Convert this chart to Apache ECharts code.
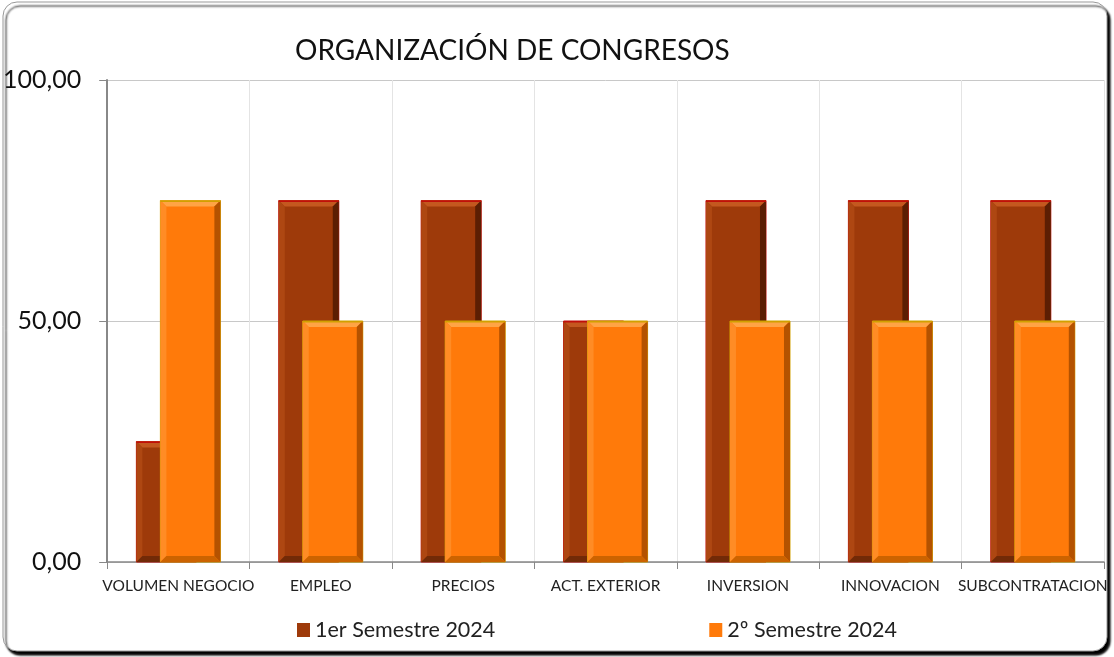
<!DOCTYPE html>
<html>
<head>
<meta charset="utf-8">
<script src="https://cdn.jsdelivr.net/npm/echarts@6/dist/echarts.min.js"></script>
<style>
  html,body{margin:0;padding:0;background:#fff;}
  #chart{width:1114px;height:657px;}
</style>
</head>
<body>
<div id="chart"></div>
<script>
// datos del gráfico
const categorias=['VOLUMEN NEGOCIO','EMPLEO','PRECIOS','ACT. EXTERIOR','INVERSION','INNOVACION','SUBCONTRATACION'];
const semestre1=[25,75,75,50,75,75,75];
const semestre2=[75,50,50,50,50,50,50];
const nombres=['1er Semestre 2024','2º Semestre 2024'];
const yTicks=[0,50,100];

const fuente='Lato';
// colores de cada barra con bisel
const estilos=[
  {main:'#9E3A0A',top:'#C4581F',left:'#AE4712',right:'#5C1E03',bottom:'#722A07',border:'#C0100A'},
  {main:'#FF7A0A',top:'#FFA445',left:'#FF8C25',right:'#B45200',bottom:'#CC6300',border:'#D2A000'}
];

function bisel(idx,offset){
  return function(params,api){
    const centro=api.coord([api.value(0),api.value(1)]);
    const base=api.coord([api.value(0),0]);
    const w=60,b=6;
    const x0=centro[0]+offset-w/2, x1=x0+w;
    const y0=centro[1], y1=base[1];
    const c=estilos[idx];
    return {
      type:'group',
      children:[
        {type:'rect',shape:{x:x0,y:y0,width:w,height:y1-y0},style:{fill:c.main,stroke:c.border,lineWidth:1}},
        {type:'polygon',shape:{points:[[x0,y0],[x1,y0],[x1-b,y0+b],[x0+b,y0+b]]},style:{fill:c.top}},
        {type:'polygon',shape:{points:[[x0,y0],[x0+b,y0+b],[x0+b,y1-b],[x0,y1]]},style:{fill:c.left}},
        {type:'polygon',shape:{points:[[x1,y0],[x1,y1],[x1-b,y1-b],[x1-b,y0+b]]},style:{fill:c.right}},
        {type:'polygon',shape:{points:[[x0,y1],[x0+b,y1-b],[x1-b,y1-b],[x1,y1]]},style:{fill:c.bottom}},
        {type:'rect',shape:{x:x0,y:y0,width:w,height:1.5},style:{fill:c.border}}
      ]
    };
  };
}

const chart=echarts.init(document.getElementById('chart'));
chart.setOption({
  animation:false,
  backgroundColor:'#fff',
  graphic:[{
    type:'rect',z:-10,
    shape:{x:3,y:2,width:1104,height:649,r:14},
    style:{fill:'#fff',stroke:'#999',lineWidth:1,shadowColor:'rgba(0,0,0,1)',shadowOffsetX:3,shadowOffsetY:4,shadowBlur:2}
  }],
  title:{
    text:'ORGANIZACIÓN DE CONGRESOS',
    left:290,top:32,
    textStyle:{fontFamily:fuente,fontSize:28,fontWeight:'normal',color:'#111'}
  },
  legend:{
    left:292,top:614,
    itemWidth:13,itemHeight:14,itemGap:214,
    icon:'rect',
    textStyle:{fontFamily:fuente,fontSize:21.5,color:'#222'},
    data:nombres
  },
  grid:{left:107,right:10,top:80,bottom:95},
  xAxis:{
    type:'category',
    data:categorias,
    axisLine:{lineStyle:{color:'#888',width:1.5}},
    axisTick:{show:true,length:7,lineStyle:{color:'#888'}},
    axisLabel:{interval:0,margin:16,fontFamily:fuente,fontSize:15.5,color:'#222'},
    splitLine:{show:true,lineStyle:{color:'#e4e4e4'}}
  },
  yAxis:{
    type:'value',min:0,max:100,interval:50,
    axisLine:{show:true,lineStyle:{color:'#888',width:2}},
    axisTick:{show:true,length:8,lineStyle:{color:'#888'}},
    axisLabel:{margin:26,fontFamily:fuente,fontSize:25,color:'#111',
      formatter:v=>yTicks.includes(v)?v.toFixed(2).replace('.',','):''},
    splitLine:{lineStyle:{color:'#c8c8c8'}}
  },
  series:[
    {name:nombres[0],type:'custom',itemStyle:{color:estilos[0].main},
      renderItem:bisel(0,-12),encode:{x:0,y:1},
      data:semestre1.map((v,i)=>[i,v])},
    {name:nombres[1],type:'custom',itemStyle:{color:estilos[1].main},
      renderItem:bisel(1,12),encode:{x:0,y:1},
      data:semestre2.map((v,i)=>[i,v])}
  ]
});
</script>
</body>
</html>
